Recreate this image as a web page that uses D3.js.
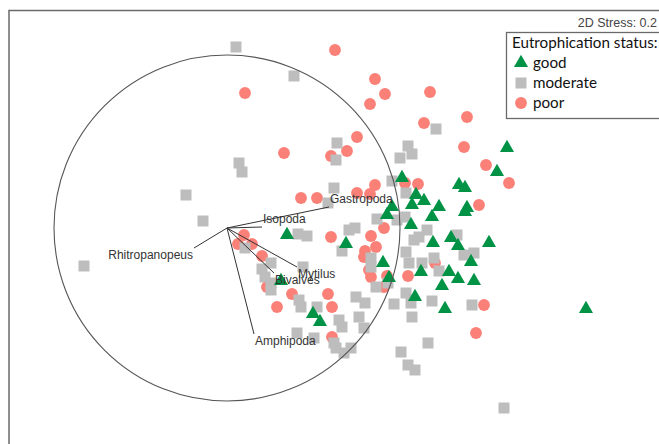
<!DOCTYPE html>
<html>
<head>
<meta charset="utf-8">
<script src="https://cdn.jsdelivr.net/npm/d3@7/dist/d3.min.js"></script>
<style>
  html, body { margin: 0; padding: 0; background: #fff; overflow: hidden; }
  svg { display: block; }
</style>
</head>
<body>
<svg id="chart" width="659" height="444"></svg>
<script>
// nMDS ordination of sites, coloured by eutrophication status,
// with a correlation circle and vectors for macrofauna taxa.

const statusLevels = ["good", "moderate", "poor"];
const stressLabel = "2D Stress: 0.2";
const legendTitle = "Eutrophication status:";

// Site scores (MDS1, MDS2) per status class
const goodSites = [
  [2.80, 0.80], [2.70, 0.56], [1.75, 0.50], [2.32, 0.43], [2.38, 0.40],
  [1.89, 0.33], [1.97, 0.27], [1.85, 0.23], [1.65, 0.21], [2.12, 0.21],
  [2.40, 0.20], [2.38, 0.16], [1.60, 0.13], [2.05, 0.11], [1.84, 0.03],
  [0.60, -0.07], [1.19, -0.16], [2.06, -0.15], [2.24, -0.10], [2.31, -0.18],
  [2.62, -0.15], [2.44, -0.34], [1.56, -0.35], [1.62, -0.50], [1.94, -0.44],
  [2.22, -0.44], [2.31, -0.51], [2.47, -0.53], [2.15, -0.58], [1.88, -0.69],
  [2.18, -0.81], [3.59, -0.81], [0.86, -0.86], [0.93, -0.94], [0.54, -0.53]
];

const moderateSites = [
  [0.09, 1.81], [0.67, 1.52], [0.12, 0.65], [0.15, 0.56], [-0.41, 0.33],
  [-0.24, 0.07], [-1.43, -0.38], [2.09, 0.99], [1.10, 0.85], [1.81, 0.82],
  [1.85, 0.74], [1.73, 0.70], [1.09, 0.68], [1.65, 0.47], [1.07, 0.40],
  [1.79, 0.35], [1.01, 0.25], [1.50, 0.09], [1.78, 0.11], [1.70, 0.08],
  [1.22, -0.02], [1.28, 0.00], [0.71, -0.06], [0.80, -0.08], [2.00, -0.02],
  [1.92, -0.09], [1.87, -0.12], [2.30, -0.07], [0.18, -0.20], [1.79, -0.24],
  [1.15, -0.23], [1.44, -0.30], [1.44, -0.39], [1.82, -0.35], [1.95, -0.35],
  [2.07, -0.30], [2.12, -0.43], [2.37, -0.27], [2.47, -0.25], [0.76, -0.39],
  [0.44, -0.35], [0.35, -0.41], [0.38, -0.49], [0.44, -0.55], [0.44, -0.62],
  [1.49, -0.59], [1.61, -0.55], [1.79, -0.65], [1.29, -0.69], [1.38, -0.75],
  [1.67, -0.76], [1.84, -0.75], [2.05, -0.73], [2.45, -0.77], [0.90, -0.79],
  [0.74, -0.79], [0.72, -0.72], [1.32, -0.89], [1.85, -0.89], [1.12, -0.92],
  [1.15, -0.99], [0.70, -1.05], [1.37, -1.00], [0.87, -1.10], [1.07, -1.15],
  [1.09, -1.20], [1.17, -1.25], [1.24, -1.20], [2.01, -1.15], [1.74, -1.24],
  [1.81, -1.37], [1.88, -1.42], [2.77, -1.80]
];

const poorSites = [
  [1.08, 1.78], [0.18, 1.35], [1.48, 1.49], [1.58, 1.34], [1.43, 1.24],
  [2.03, 1.36], [2.40, 1.11], [1.97, 1.05], [1.30, 0.91], [1.20, 0.77],
  [1.04, 0.72], [0.57, 0.75], [2.37, 0.81], [2.59, 0.63], [2.82, 0.45],
  [1.48, 0.43], [1.78, 0.45], [1.91, 0.44], [1.30, 0.35], [1.43, 0.34],
  [0.74, 0.30], [0.90, 0.30], [2.52, 0.23], [0.17, -0.07], [0.25, -0.16],
  [0.11, -0.16], [0.35, -0.28], [1.04, -0.09], [1.44, -0.08], [1.57, 0.00],
  [1.49, -0.19], [1.38, -0.23], [1.37, -0.29], [1.42, -0.42], [1.44, -0.49],
  [1.60, -0.48], [1.57, -0.59], [1.81, -0.48], [2.08, -0.35], [0.40, -0.59],
  [0.50, -0.79], [0.65, -0.66], [1.01, -0.66], [1.05, -0.79], [1.05, -1.09],
  [2.57, -0.77], [2.49, -1.05]
];

// Taxon vectors (end points in ordination units)
const taxa = ["Rhitropanopeus", "Isopoda", "Gastropoda", "Mytilus", "Bivalves", "Amphipoda"];
const vectorX = [-0.33, 0.35, 1.02, 0.70, 0.47, 0.27];
const vectorY = [-0.20, 0.01, 0.21, -0.39, -0.45, -1.06];
const circleRadius = 1.73;

const width = 659, height = 444;
const svg = d3.select("#chart");

const x = d3.scaleLinear().domain([-2, 4]).range([27, 627]);
const y = d3.scaleLinear().domain([-2, 2.2]).range([428, 8]);

const colors = { good: "#009245", moderate: "#bdbdbd", poor: "#fa8078" };

// plot frame (continues past the right and bottom edges)
svg.append("rect")
  .attr("x", 9).attr("y", 10.5)
  .attr("width", 700).attr("height", 500)
  .attr("fill", "none").attr("stroke", "#6a6a6a").attr("stroke-width", 1.5);

svg.append("text")
  .attr("x", 657).attr("y", 27)
  .attr("text-anchor", "end")
  .attr("font-family", "Liberation Sans, Arial, sans-serif")
  .attr("font-size", 12.5).attr("fill", "#444")
  .text(stressLabel);

const sym = {
  poor: d3.symbol().type(d3.symbolCircle).size(110),
  moderate: d3.symbol().type(d3.symbolSquare).size(121),
  good: d3.symbol().type(d3.symbolTriangle).size(86)
};

function drawSites(data, key) {
  svg.append("g").selectAll("path")
    .data(data)
    .join("path")
    .attr("d", sym[key]())
    .attr("transform", d => `translate(${x(d[0])},${y(d[1])})`)
    .attr("fill", colors[key]);
}
drawSites(poorSites, "poor");
drawSites(moderateSites, "moderate");
drawSites(goodSites, "good");

// correlation circle
svg.append("circle")
  .attr("cx", x(0)).attr("cy", y(0))
  .attr("r", x(circleRadius) - x(0))
  .attr("fill", "none").attr("stroke", "#555").attr("stroke-width", 1.1);

// taxon vectors and labels
const vec = taxa.map((t, i) => ({ name: t, vx: vectorX[i], vy: vectorY[i] }));
const vg = svg.append("g");
vg.selectAll("line").data(vec).join("line")
  .attr("x1", x(0)).attr("y1", y(0))
  .attr("x2", d => x(d.vx)).attr("y2", d => y(d.vy))
  .attr("stroke", "#333").attr("stroke-width", 1);
vg.selectAll("text").data(vec).join("text")
  .attr("x", d => x(d.vx) + (d.vx >= 0 ? 1 : -1))
  .attr("y", d => y(d.vy) + (d.vy >= 0 ? -4 : 11))
  .attr("text-anchor", d => d.vx >= 0 ? "start" : "end")
  .attr("font-family", "Liberation Sans, Arial, sans-serif")
  .attr("font-size", 12).attr("fill", "#333")
  .text(d => d.name);

// legend
const lg = svg.append("g");
lg.append("rect")
  .attr("x", 506.5).attr("y", 32.5).attr("width", 200).attr("height", 86)
  .attr("fill", "#fff").attr("stroke", "#6a6a6a").attr("stroke-width", 1.3);
lg.append("text")
  .attr("x", 512).attr("y", 48)
  .attr("font-family", "Lato, sans-serif").attr("font-size", 15.2).attr("fill", "#111")
  .text(legendTitle);
statusLevels.forEach((s, i) => {
  const cy = 63 + i * 20;
  lg.append("path")
    .attr("d", sym[s]())
    .attr("transform", `translate(521,${cy})`)
    .attr("fill", colors[s]);
  lg.append("text")
    .attr("x", 533).attr("y", cy + 5)
    .attr("font-family", "Lato, sans-serif").attr("font-size", 15.2).attr("fill", "#111")
    .text(s);
});
</script>
</body>
</html>
